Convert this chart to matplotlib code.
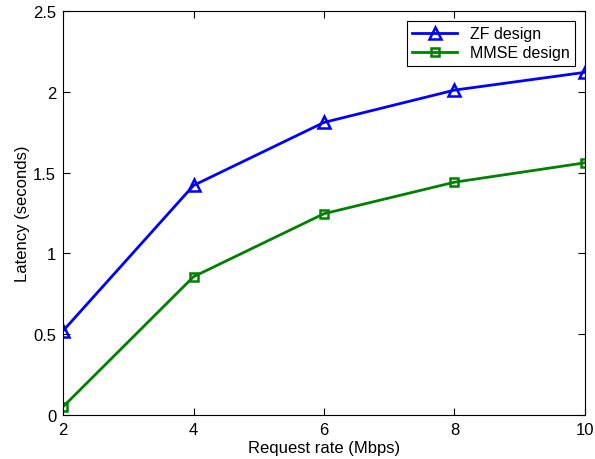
import matplotlib
matplotlib.use("Agg")
import matplotlib.pyplot as plt

plt.rcParams["font.family"] = ["Liberation Sans", "DejaVu Sans"]

rates = [2, 4, 6, 8, 10]
zf_latency = [0.52, 1.42, 1.81, 2.01, 2.12]
mmse_latency = [0.05, 0.855, 1.245, 1.44, 1.56]

fig = plt.figure(figsize=(5.95, 4.6), dpi=100)
ax = fig.add_axes([0.106, 0.096, 0.877, 0.878])

ax.plot(rates, zf_latency, color="#0000ff", linewidth=2, marker="^",
        markersize=8, markerfacecolor="none", markeredgewidth=1.8,
        label="ZF design")
ax.plot(rates, mmse_latency, color="#008000", linewidth=2, marker="s",
        markersize=6, markerfacecolor="none", markeredgewidth=1.8,
        label="MMSE design")

ax.set_xlim(2, 10)
ax.set_ylim(0, 2.5)
ax.set_xticks([2, 4, 6, 8, 10])
ax.set_yticks([0, 0.5, 1, 1.5, 2, 2.5])
ax.set_yticklabels(["0", "0.5", "1", "1.5", "2", "2.5"])
ax.tick_params(direction="in", top=True, right=True, labelsize=12, length=5)
ax.tick_params(axis="x", pad=5)
ax.tick_params(axis="y", pad=5)
for s in ax.spines.values():
    s.set_linewidth(0.8)

ax.set_xlabel("Request rate (Mbps)", fontsize=12, labelpad=2)
ax.set_ylabel("Latency (seconds)", fontsize=12, labelpad=2)

leg = ax.legend(loc="upper right", fontsize=11.5, fancybox=False,
                edgecolor="black", framealpha=1, borderaxespad=0.6,
                handlelength=2.8, borderpad=0.35, labelspacing=0.25)
leg.get_frame().set_linewidth(0.8)

fig.savefig("out.png", dpi=100)
